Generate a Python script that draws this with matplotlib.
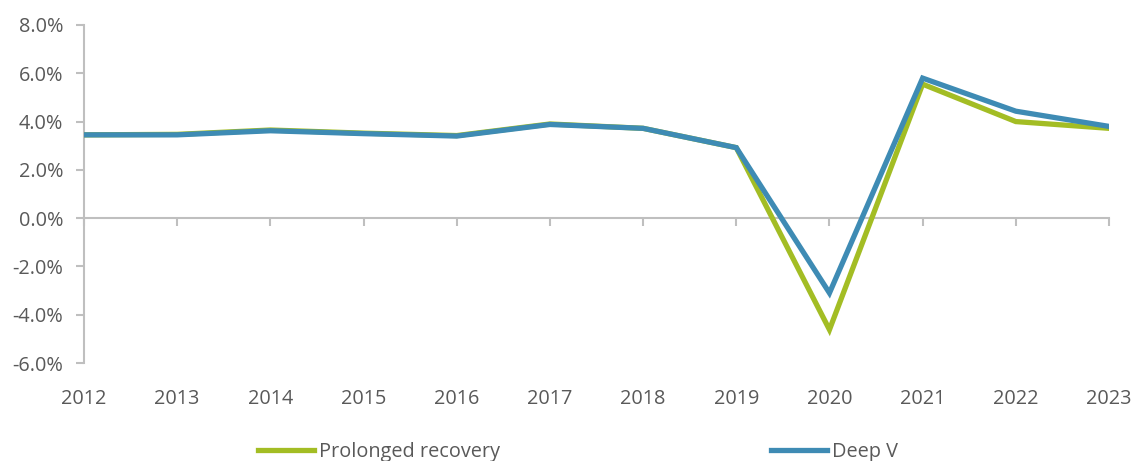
import matplotlib
matplotlib.use("Agg")
import matplotlib.pyplot as plt
from matplotlib.ticker import FuncFormatter, MultipleLocator

plt.rcParams['font.family'] = ['Open Sans', 'DejaVu Sans']

years = [2012, 2013, 2014, 2015, 2016, 2017, 2018, 2019, 2020, 2021, 2022, 2023]
prolonged = [3.45, 3.47, 3.65, 3.52, 3.42, 3.9, 3.72, 2.92, -4.62, 5.55, 4.0, 3.72]
deep_v = [3.45, 3.45, 3.62, 3.5, 3.4, 3.88, 3.72, 2.92, -3.1, 5.8, 4.43, 3.8]
series_names = ["Prolonged recovery", "Deep V"]

GREEN = "#A3BD24"
BLUE = "#3E8BB4"
AXIS = "#BFBFBF"
TEXT = "#595959"
FS = 14.3

fig = plt.figure(figsize=(11.33, 4.61), dpi=100)
ax = fig.add_axes([84/1133, 1-363/461, (1109-84)/1133, (363-25)/461])

l1, = ax.plot(years, prolonged, color=GREEN, lw=3.8, solid_joinstyle='miter', zorder=3)
l2, = ax.plot(years, deep_v, color=BLUE, lw=3.8, solid_joinstyle='miter', zorder=4)

ax.set_xlim(years[0], years[-1])
ax.set_ylim(-6, 8)
ax.yaxis.set_major_locator(MultipleLocator(2))
ax.yaxis.set_major_formatter(FuncFormatter(lambda v, p: f"{v:.1f}%"))

for s in ['top', 'right']:
    ax.spines[s].set_visible(False)
ax.spines['left'].set_color(AXIS)
ax.spines['left'].set_linewidth(1.5)
ax.spines['bottom'].set_position(('data', 0))
ax.spines['bottom'].set_color(AXIS)
ax.spines['bottom'].set_linewidth(1.5)

ax.set_xticks(years)
ax.tick_params(axis='x', direction='out', length=6, width=1.5, color=AXIS, labelbottom=False)
ax.tick_params(axis='y', direction='out', length=6, width=1.5, color=AXIS, labelcolor=TEXT, labelsize=FS, pad=9)

sec = ax.secondary_xaxis(0)
sec.set_xticks(years)
sec.set_xticklabels([str(y) for y in years])
sec.spines['bottom'].set_visible(False)
sec.tick_params(length=0, labelcolor=TEXT, labelsize=FS, pad=19)

for line, name, x0 in [(l1, series_names[0], 258), (l2, series_names[1], 771)]:
    fig.legend([line], [name], loc='center left', bbox_to_anchor=(x0/1133, 1-452/461),
               frameon=False, fontsize=FS, handlelength=2.8, handletextpad=0.25, borderpad=0,
               borderaxespad=0, labelcolor=TEXT)

fig.savefig("out.png", dpi=100)
